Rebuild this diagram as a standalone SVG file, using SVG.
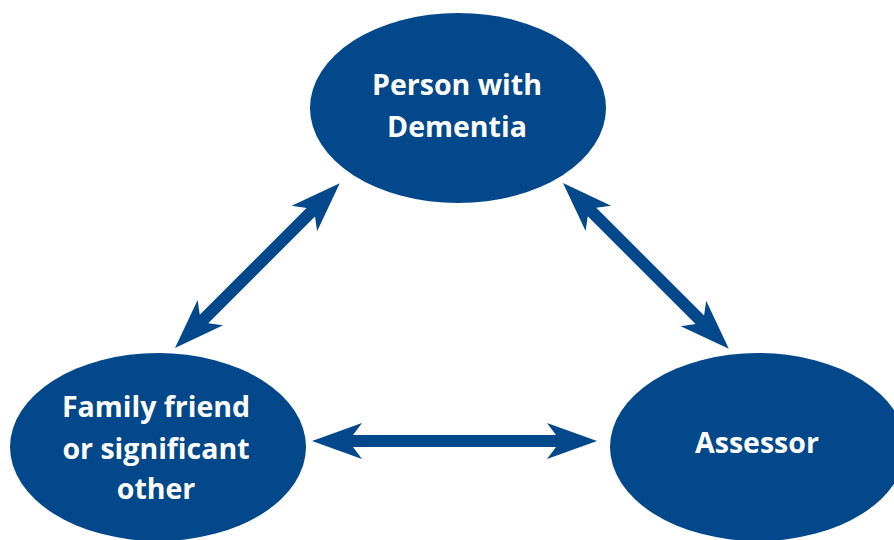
<svg xmlns="http://www.w3.org/2000/svg" width="894" height="540" viewBox="0 0 894 540">
<style>
.node{fill:#03488a}
.lbl{fill:#ffffff;font-family:"Open Sans",Lato,sans-serif;font-weight:bold;font-size:28.5px;text-anchor:middle}
.arr{fill:#03488a}
</style>
<rect width="894" height="540" fill="#ffffff"/>
<g id="connectors">
<path class="arr" transform="translate(175,348) rotate(-45)" d="M0,0 L50,-18 L41,-6 L192,-6 L183,-18 L233,0 L183,18 L192,6 L41,6 L50,18 Z"/>
<path class="arr" transform="translate(563,183) rotate(45)" d="M0,0 L50,-18 L41,-6 L193.5,-6 L184.5,-18 L234.5,0 L184.5,18 L193.5,6 L41,6 L50,18 Z"/>
<path class="arr" transform="translate(312,441)" d="M0,0 L50,-18 L41,-6 L244,-6 L235,-18 L285,0 L235,18 L244,6 L41,6 L50,18 Z"/>
</g>
<g id="person">
<ellipse class="node" cx="458" cy="108" rx="148" ry="95"/>
<text class="lbl" x="457" y="95">Person with</text>
<text class="lbl" x="457" y="137">Dementia</text>
</g>
<g id="family">
<ellipse class="node" cx="158" cy="447" rx="148" ry="94"/>
<text class="lbl" x="156" y="417">Family friend</text>
<text class="lbl" x="156" y="459">or significant</text>
<text class="lbl" x="156" y="499">other</text>
</g>
<g id="assessor">
<ellipse class="node" cx="758" cy="447" rx="148" ry="94"/>
<text class="lbl" x="757" y="453">Assessor</text>
</g>
</svg>
